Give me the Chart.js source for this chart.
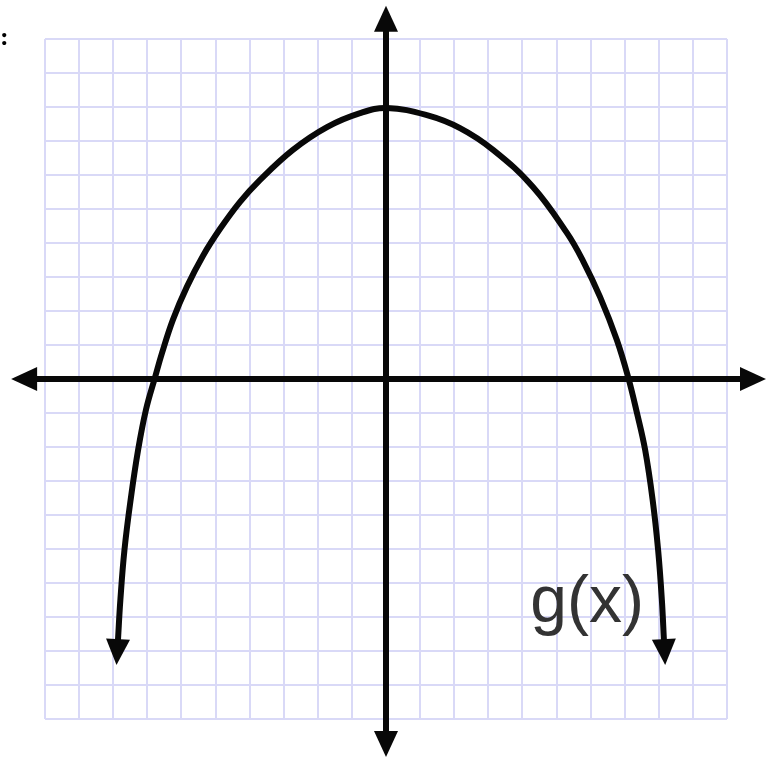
<!DOCTYPE html>
<html lang="en">

<head>
    <meta charset="UTF-8">
    <title>g(x)</title>
    <script src="https://cdn.jsdelivr.net/npm/chart.js"></script>
    <style>
        body {
            margin: 0;
            background: #fff;
        }

        #wrap {
            width: 772px;
            height: 759px;
        }
    </style>
</head>

<body>
    <div id="wrap">
        <canvas id="graph" width="772" height="759"></canvas>
    </div>

    <script>
        // Grid range (one square = one unit)
        const gridMin = -10;
        const gridMax = 10;

        // Curve g(x) (first / last points are where the arrows start)
        const curveX = [-7.86, -7.79, -7.67, -7.49, -7.27, -7.04, -6.77, -6.57, -6.25, -5.84, -5.37, -4.87, -4.28, -3.70,
            -2.73, -1.73, -0.76, 0.03, 1.20, 2.17, 3.14, 4.31, 5.31, 5.78, 6.28, 6.77, 7.10, 7.36, 7.60, 7.82, 7.98, 8.09, 8.15];
        const curveY = [-7.68, -6.50, -5.03, -3.56, -2.09, -0.91, 0.06, 0.76, 1.74, 2.71, 3.62, 4.41, 5.21, 5.85,
            6.74, 7.41, 7.82, 7.97, 7.76, 7.38, 6.74, 5.65, 4.29, 3.47, 2.41, 1.15, 0.06, -1.00, -2.09, -3.56, -5.03, -6.50, -7.68];

        // Axis lines (they run a little past the grid)
        const xAxisX = [-10.26, 10.41];
        const xAxisY = [0, 0];
        const yAxisX = [0, 0];
        const yAxisY = [10.24, -10.38];

        const curveLabel = 'g(x)';

        const toPoints = (xs, ys) => xs.map((x, i) => ({ x: x, y: ys[i] }));

        // draw a filled arrow head at "to", pointing away from "from"
        function drawHead(ctx, from, to, color) {
            const ang = Math.atan2(to.y - from.y, to.x - from.x);
            ctx.save();
            ctx.translate(to.x, to.y);
            ctx.rotate(ang);
            ctx.beginPath();
            ctx.moveTo(25, 0);
            ctx.lineTo(-1, -12);
            ctx.lineTo(-1, 12);
            ctx.closePath();
            ctx.fillStyle = color;
            ctx.fill();
            ctx.restore();
        }

        const arrowPlugin = {
            id: 'arrowHeads',
            afterDatasetsDraw(chart) {
                const ctx = chart.ctx;
                chart.data.datasets.forEach((ds, i) => {
                    const pts = chart.getDatasetMeta(i).data;
                    const n = pts.length;
                    if (n < 2) return;
                    drawHead(ctx, pts[1], pts[0], ds.borderColor);
                    drawHead(ctx, pts[n - 2], pts[n - 1], ds.borderColor);
                });
            }
        };

        const labelPlugin = {
            id: 'curveLabel',
            afterDraw(chart) {
                const ctx = chart.ctx;
                const sx = chart.scales.x;
                const sy = chart.scales.y;
                ctx.save();
                ctx.fillStyle = '#333';
                ctx.font = '66px "Liberation Sans", Arial, sans-serif';
                ctx.textAlign = 'center';
                ctx.textBaseline = 'alphabetic';
                ctx.fillText(curveLabel, sx.getPixelForValue(5.9), sy.getPixelForValue(-7.15));
                // stray colon cut off at the top left of the original
                ctx.fillStyle = '#000';
                ctx.font = 'bold 26px "Liberation Serif", serif';
                ctx.textAlign = 'left';
                ctx.fillText(':', 0, 45);
                ctx.restore();
            }
        };

        const gridStyle = {
            color: '#d9d9f7',
            lineWidth: 2,
            drawTicks: false
        };

        new Chart(document.getElementById('graph'), {
            type: 'scatter',
            data: {
                datasets: [
                    {
                        data: toPoints(xAxisX, xAxisY),
                        showLine: true,
                        borderColor: '#080808',
                        borderWidth: 6,
                        pointRadius: 0,
                        clip: false
                    },
                    {
                        data: toPoints(yAxisX, yAxisY),
                        showLine: true,
                        borderColor: '#080808',
                        borderWidth: 6,
                        pointRadius: 0,
                        clip: false
                    },
                    {
                        data: toPoints(curveX, curveY),
                        showLine: true,
                        borderColor: '#080808',
                        borderWidth: 6,
                        pointRadius: 0,
                        tension: 0.4,
                        clip: false
                    }
                ]
            },
            options: {
                responsive: false,
                animation: false,
                layout: {
                    padding: { left: 45, right: 45, top: 39, bottom: 40 }
                },
                plugins: {
                    legend: { display: false },
                    tooltip: { enabled: false }
                },
                scales: {
                    x: {
                        type: 'linear',
                        min: gridMin,
                        max: gridMax,
                        ticks: { display: false, stepSize: 1 },
                        grid: gridStyle,
                        border: { display: false }
                    },
                    y: {
                        type: 'linear',
                        min: gridMin,
                        max: gridMax,
                        ticks: { display: false, stepSize: 1 },
                        grid: gridStyle,
                        border: { display: false }
                    }
                }
            },
            plugins: [arrowPlugin, labelPlugin]
        });
    </script>
</body>

</html>
